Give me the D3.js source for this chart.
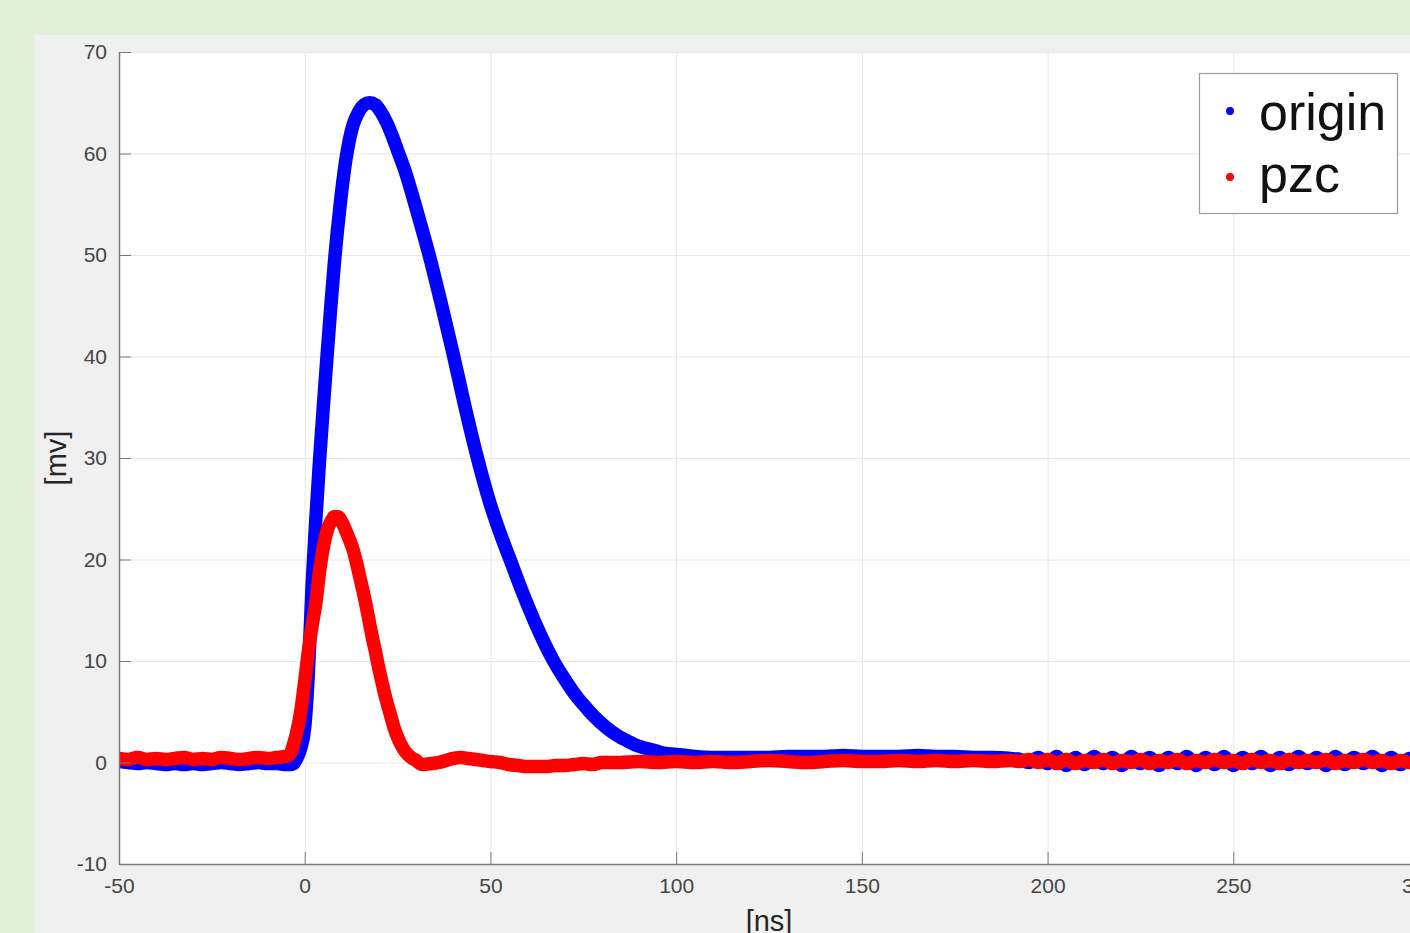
<!DOCTYPE html>
<html>
<head>
<meta charset="utf-8">
<script src="https://cdn.jsdelivr.net/npm/d3@7"></script>
<style>
  html, body { margin: 0; padding: 0; background: #e2efd9; overflow: hidden; }
  svg { display: block; font-family: "Liberation Sans", Arial, sans-serif; }
</style>
</head>
<body>
<div id="chart"></div>
<script>
// time axis [ns] and signal [mv]
const originT = [-50, -47.5, -45, -42.5, -40, -37.5, -35, -32.5, -30, -27.5, -25, -22.5, -20, -17.5, -15, -12.5, -10, -7.5, -5, -4, -3, -2, -1,
    0, 1, 2, 3, 4, 5, 6, 7, 8, 9.5, 11, 12, 13, 14.5, 16, 17.5, 19, 20.5, 22, 23.5, 25, 27, 28.5, 31, 33.5, 36.5, 40, 43, 46.5, 50, 53, 55.5,
    58.5, 62, 67, 70, 73, 76, 78, 81, 84, 87, 90, 94, 97, 100, 105, 110, 115, 120, 125, 130, 135, 140, 145, 150, 155, 160, 165, 170, 175,
    180, 185, 190, 192.5, 195, 197.5, 200, 202.5, 205, 207.5, 210, 212.5, 215, 217.5, 220, 222.5, 225, 227.5, 230, 232.5, 235, 237.5, 240,
    242.5, 245, 247.5, 250, 252.5, 255, 257.5, 260, 262.5, 265, 267.5, 270, 272.5, 275, 277.5, 280, 282.5, 285, 287.5, 290, 292.5, 295, 297.5, 300];
const originV = [0.1, 0.0, -0.1, 0.0, -0.1, -0.2, -0.1, -0.2, -0.1, -0.2, -0.1, 0.0, -0.1, -0.2, -0.1, 0.0, -0.1, -0.1, -0.2, -0.2, -0.1, 0.5, 1.5,
    3.5, 9, 17.5, 24, 29.8, 35, 40, 44.8, 49.3, 54.8, 59.2, 61.3, 62.8, 64.1, 64.8, 65, 64.8, 64.1, 63.1, 61.8, 60.3, 58.3, 56.5, 53.3, 50, 45.6, 40.2, 35.3, 30, 25.4, 22.2, 19.8,
    16.9, 13.8, 10, 8.2, 6.6, 5.3, 4.5, 3.5, 2.7, 2.1, 1.6, 1.2, 0.9, 0.8, 0.6, 0.5, 0.5, 0.5, 0.5, 0.6, 0.6, 0.6, 0.7, 0.6, 0.6, 0.6, 0.7, 0.6, 0.6,
    0.5, 0.5, 0.4, 0.3, 0.0, 0.5, -0.1, 0.6, -0.3, 0.5, -0.2, 0.6, -0.1, 0.5, -0.3, 0.6, -0.1, 0.5, -0.3, 0.5, -0.1, 0.6, -0.3,
    0.5, -0.2, 0.6, -0.3, 0.5, -0.1, 0.6, -0.3, 0.5, -0.2, 0.6, -0.1, 0.5, -0.3, 0.6, -0.2, 0.5, -0.1, 0.6, -0.3, 0.5, -0.2, 0.4, -0.1, 0.2];

const pzcT = [-50, -47.5, -45, -42.5, -40, -37.5, -35, -32.5, -30, -27.5, -25, -22.5, -20, -17.5, -15, -12.5, -10, -7.5, -5, -4, -3, -2, -1,
    0, 1, 2, 3, 4, 5, 6, 7, 8, 9, 10, 11, 12, 13, 14, 15, 16, 17, 18, 19, 20, 21, 22, 23, 24, 25, 26, 27, 28, 29, 30, 31, 32, 34, 36, 38,
    40, 42, 44, 46, 48, 50, 52.5, 55, 57.5, 60, 62.5, 65, 67.5, 70, 72.5, 75, 77.5, 80, 85, 90, 95, 100, 105, 110, 115, 120, 125, 130, 135,
    140, 145, 150, 155, 160, 165, 170, 175, 180, 185, 190, 192.5, 195, 197.5, 200, 202.5, 205, 207.5, 210, 212.5, 215, 217.5, 220, 222.5,
    225, 227.5, 230, 232.5, 235, 237.5, 240, 242.5, 245, 247.5, 250, 252.5, 255, 257.5, 260, 262.5, 265, 267.5, 270, 272.5, 275, 277.5,
    280, 282.5, 285, 287.5, 290, 292.5, 295, 297.5, 300];
const pzcV = [0.4, 0.3, 0.5, 0.3, 0.4, 0.3, 0.4, 0.5, 0.3, 0.4, 0.3, 0.5, 0.4, 0.3, 0.4, 0.5, 0.4, 0.5, 0.6, 0.8, 1.8, 3.2, 5.2,
    8, 11, 13.5, 15.7, 18.8, 21.2, 22.8, 23.7, 24.2, 24.2, 23.7, 22.9, 22, 21, 19.6, 18, 16.4, 14.6, 12.7, 11, 9.2, 7.6, 6.1, 4.8, 3.5, 2.5, 1.7, 1.1, 0.7, 0.4, 0.2, -0.1, -0.2, -0.1, 0.0, 0.2,
    0.4, 0.5, 0.4, 0.3, 0.2, 0.1, 0.0, -0.2, -0.3, -0.4, -0.4, -0.4, -0.3, -0.3, -0.2, -0.1, -0.2, 0.0, 0.0, 0.1, 0.0, 0.1, 0.0, 0.1, 0.0, 0.1, 0.2, 0.1, 0.0,
    0.1, 0.2, 0.1, 0.1, 0.2, 0.1, 0.2, 0.1, 0.2, 0.1, 0.2, 0.1, 0.3, 0.0, 0.3, -0.1, 0.3, -0.1, 0.2, 0.0, 0.3, -0.1, 0.2, 0.0, 0.3,
    -0.1, 0.2, 0.0, 0.3, -0.1, 0.2, 0.0, 0.3, 0.0, 0.2, -0.1, 0.3, 0.0, 0.2, -0.1, 0.3, 0.0, 0.2, 0.0, 0.3, -0.1, 0.2, 0.0,
    0.3, 0.0, 0.2, -0.1, 0.2, 0.0, 0.2, 0.1, 0.2];

const xTicks = [-50, 0, 50, 100, 150, 200, 250, 300];
const yTicks = [-10, 0, 10, 20, 30, 40, 50, 60, 70];
const seriesNames = ["origin", "pzc"];
const seriesColors = ["#0000ff", "#ff0000"];

const width = 1410, height = 933;
const plot = {left: 119, right: 1419, top: 52, bottom: 864};

const svg = d3.select("#chart").append("svg")
    .attr("width", width)
    .attr("height", height);

// figure panel
svg.append("rect").attr("x", 35).attr("y", 35).attr("width", width - 35).attr("height", height - 35).attr("fill", "#f0f0f0");

const x = d3.scaleLinear().domain([-50, 300]).range([plot.left, plot.right]);
const y = d3.scaleLinear().domain([-10, 70]).range([plot.bottom, plot.top]);

svg.append("clipPath").attr("id", "clip")
    .append("rect")
    .attr("x", plot.left).attr("y", plot.top)
    .attr("width", plot.right - plot.left).attr("height", plot.bottom - plot.top);

svg.append("rect")
    .attr("x", plot.left).attr("y", plot.top)
    .attr("width", plot.right - plot.left).attr("height", plot.bottom - plot.top)
    .attr("fill", "#fff");

// grid
const grid = svg.append("g").attr("stroke", "#e6e6e6").attr("stroke-width", 1);
grid.selectAll(".gx").data(xTicks).join("line")
    .attr("x1", d => x(d) + 0.5).attr("x2", d => x(d) + 0.5)
    .attr("y1", plot.top).attr("y2", plot.bottom);
grid.selectAll(".gy").data(yTicks).join("line")
    .attr("y1", d => y(d) + 0.5).attr("y2", d => y(d) + 0.5)
    .attr("x1", plot.left).attr("x2", plot.right);

// curves
const line = d3.line()
    .x(d => x(d[0]))
    .y(d => y(d[1]))
    .curve(d3.curveMonotoneX);

const curves = svg.append("g").attr("clip-path", "url(#clip)");
[[originT, originV], [pzcT, pzcV]].forEach(([t, v], i) => {
    curves.append("path")
        .datum(t.map((d, j) => [d, v[j]]))
        .attr("d", line)
        .attr("fill", "none")
        .attr("stroke", seriesColors[i])
        .attr("stroke-width", 13.5)
        .attr("stroke-linejoin", "round")
        .attr("stroke-linecap", "round");
});

// axes, MATLAB style ticks pointing inward
const plain = d => String(d);
svg.append("g")
    .attr("transform", `translate(0,${plot.bottom})`)
    .call(d3.axisBottom(x).tickValues(xTicks).tickFormat(plain).tickSizeInner(-12).tickSizeOuter(0).tickPadding(14))
    .call(g => g.select(".domain").attr("stroke", "#7a7a7a").attr("stroke-width", 1.5))
    .call(g => g.selectAll(".tick line").attr("stroke", "#7a7a7a"))
    .call(g => g.selectAll("text").attr("fill", "#454545").attr("font-size", 21).attr("font-family", "Liberation Sans, Arial, sans-serif"));

svg.append("g")
    .attr("transform", `translate(${plot.left},0)`)
    .call(d3.axisLeft(y).tickValues(yTicks).tickFormat(plain).tickSizeInner(-12).tickSizeOuter(0).tickPadding(12))
    .call(g => g.select(".domain").attr("stroke", "#7a7a7a").attr("stroke-width", 1.5))
    .call(g => g.selectAll(".tick line").attr("stroke", "#7a7a7a"))
    .call(g => g.selectAll("text").attr("fill", "#454545").attr("font-size", 21).attr("font-family", "Liberation Sans, Arial, sans-serif"));

// axis labels
svg.append("text")
    .attr("x", (plot.left + plot.right) / 2)
    .attr("y", 931)
    .attr("text-anchor", "middle")
    .attr("font-size", 29)
    .attr("fill", "#262626")
    .text("[ns]");

svg.append("text")
    .attr("transform", `translate(66,${(plot.top + plot.bottom) / 2}) rotate(-90)`)
    .attr("text-anchor", "middle")
    .attr("font-size", 29)
    .attr("fill", "#262626")
    .text("[mv]");

// legend
const legend = svg.append("g");
legend.append("rect")
    .attr("x", 1199.5).attr("y", 73.5)
    .attr("width", 198).attr("height", 140)
    .attr("fill", "#fff").attr("stroke", "#9a9a9a").attr("stroke-width", 1.2);
seriesNames.forEach((name, i) => {
    legend.append("circle")
        .attr("cx", 1230).attr("cy", 111 + i * 66)
        .attr("r", 4).attr("fill", seriesColors[i]);
    legend.append("text")
        .attr("x", 1259).attr("y", 130 + i * 62)
        .attr("font-size", 52)
        .attr("fill", "#111")
        .text(name);
});
</script>
</body>
</html>
